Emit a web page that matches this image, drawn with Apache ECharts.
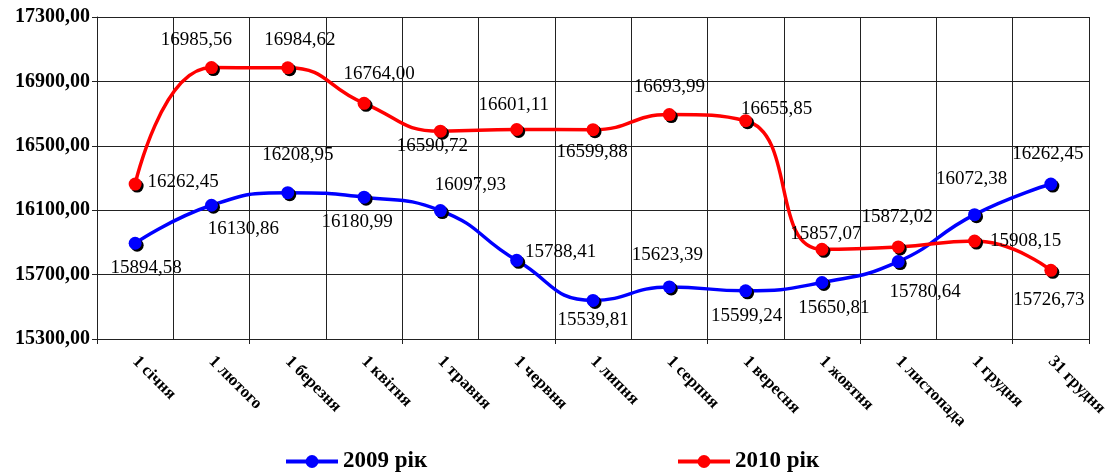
<!DOCTYPE html>
<html>
<head>
<meta charset="utf-8">
<script src="https://cdn.jsdelivr.net/npm/echarts@6/dist/echarts.min.js"></script>
<style>
  html, body { margin: 0; padding: 0; background: #fff; }
  #chart { width: 1120px; height: 475px; }
</style>
</head>
<body>
<div id="chart"></div>
<script>
// дати (категорії)
var categories = ['1 січня', '1 лютого', '1 березня', '1 квітня', '1 травня', '1 червня',
  '1 липня', '1 серпня', '1 вересня', '1 жовтня', '1 листопада', '1 грудня', '31 грудня'];

var values2009 = [15894.58, 16130.86, 16208.95, 16180.99, 16097.93, 15788.41, 15539.81,
  15623.39, 15599.24, 15650.81, 15780.64, 16072.38, 16262.45];

var values2010 = [16262.45, 16985.56, 16984.62, 16764.00, 16590.72, 16601.11, 16599.88,
  16693.99, 16655.85, 15857.07, 15872.02, 15908.15, 15726.73];

var seriesNames = ['2009 рік', '2010 рік'];

// зсуви підписів відносно точки (тільки оформлення)
var offsets2009 = [[11, 25], [32, 24], [10, -38], [-7, 25], [30, -26], [44, -8], [0, 20],
  [-2, -32], [1, 25], [12, 25], [27, 30], [-3, -36], [-3, -30]];
var offsets2010 = [[48, -2], [-15, -28], [12, -28], [15, -29], [-8, 15], [-3, -25], [-1, 22],
  [0, -28], [31, -12], [4, -15], [-1, -30], [51, 0], [-2, 30]];

function fmt(v) {
    return v.toFixed(2).replace('.', ',');
}

function buildData(vals, offs) {
    return vals.map(function (v, i) {
        return {
            value: v,
            label: { offset: offs[i] }
        };
    });
}

var serif = '"Liberation Serif", "DejaVu Serif", serif';

function lineSeries(name, color, vals, offs) {
    return {
        name: name,
        type: 'line',
        smooth: 0.5,
        data: buildData(vals, offs),
        symbol: 'circle',
        symbolSize: 13,
        lineStyle: { color: color, width: 3.5 },
        itemStyle: {
            color: color,
            shadowColor: '#000',
            shadowBlur: 0,
            shadowOffsetX: 2,
            shadowOffsetY: 2
        },
        label: {
            show: true,
            position: 'inside',
            fontFamily: serif,
            fontSize: 19,
            color: '#000',
            formatter: function (p) { return fmt(p.value); }
        },
        emphasis: { disabled: true }
    };
}

function legendAt(name, x) {
    return {
        data: [name],
        left: x,
        top: 450,
        padding: 0,
        itemWidth: 52,
        itemHeight: 16,
        lineStyle: { width: 4 },
        textStyle: { fontFamily: serif, fontSize: 23, fontWeight: 'bold', color: '#000' }
    };
}

var myChart = echarts.init(document.getElementById('chart'));

var option = {
    animation: false,
    backgroundColor: '#fff',
    grid: { left: 97, right: 31, top: 17, bottom: 136, containLabel: false },
    legend: [legendAt(seriesNames[0], 284), legendAt(seriesNames[1], 676)],
    xAxis: {
        type: 'category',
        data: categories,
        boundaryGap: true,
        axisLine: { lineStyle: { color: '#222', width: 1 } },
        axisTick: { show: true, interval: 1, length: 5, lineStyle: { color: '#222' } },
        axisLabel: {
            interval: 0,
            rotate: -45,
            margin: 20,
            fontFamily: serif,
            fontSize: 17,
            fontWeight: 'bold',
            color: '#000'
        },
        splitLine: { show: true, interval: 0, lineStyle: { color: '#222', width: 1 } }
    },
    yAxis: {
        type: 'value',
        min: 15300,
        max: 17300,
        interval: 400,
        axisLine: { show: true, lineStyle: { color: '#222', width: 1 } },
        axisTick: { show: true, length: 5, lineStyle: { color: '#222' } },
        axisLabel: {
            margin: 7,
            fontFamily: serif,
            fontSize: 20,
            fontWeight: 'bold',
            color: '#000',
            formatter: function (v) { return fmt(v); }
        },
        splitLine: { show: true, lineStyle: { color: '#222', width: 1 } }
    },
    series: [
        lineSeries(seriesNames[0], '#0000ff', values2009, offsets2009),
        lineSeries(seriesNames[1], '#ff0000', values2010, offsets2010)
    ]
};

myChart.setOption(option);
</script>
</body>
</html>
